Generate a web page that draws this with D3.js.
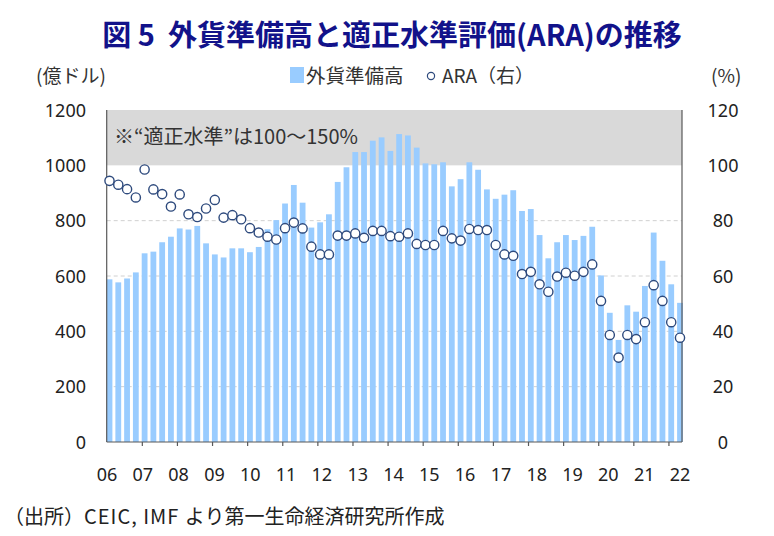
<script src="https://d3js.org/d3.v7.min.js"></script>

<svg id="vis"></svg>

<script>

  /***** DATA *****/

  // Foreign reserves (100 million USD), quarterly from 2006Q1 to 2022Q2
  var reserves = [
    588, 577, 591, 613, 682, 688, 722, 742, 772, 768, 781, 718,
    678, 667, 700, 700, 686, 705, 769, 802, 862, 929, 865, 775,
    794, 823, 940, 993, 1048, 1048, 1089, 1101, 1052, 1113, 1108, 1064,
    1007, 1004, 1011, 924, 950, 1011, 984, 913, 879, 894, 910, 835,
    842, 748, 664, 722, 748, 730, 745, 778, 602, 467, 369, 494,
    471, 564, 757, 655, 570, 503
  ]

  // ARA metric (%), right axis
  var ara = [
    94.4, 93.0, 91.4, 88.4, 98.5, 91.3, 89.6, 85.1, 89.5, 82.3, 81.3, 84.4,
    87.5, 81.1, 82.0, 80.5, 77.3, 75.7, 74.2, 73.2, 77.3, 79.3, 77.2, 70.6,
    67.8, 67.8, 74.6, 74.6, 75.4, 73.8, 76.3, 76.3, 74.4, 74.2, 75.4, 71.6,
    71.2, 71.2, 76.3, 73.6, 72.8, 77.0, 76.6, 76.6, 71.2, 67.8, 67.3, 60.7,
    61.5, 57.0, 54.3, 59.8, 61.2, 60.1, 61.5, 64.2, 51.0, 38.7, 30.5, 38.7,
    37.2, 43.3, 56.7, 51.0, 43.3, 37.7
  ]

  var yearLabels = ['06', '07', '08', '09', '10', '11', '12', '13', '14', '15', '16', '17', '18', '19', '20', '21', '22']
  var leftTicks = [0, 200, 400, 600, 800, 1000, 1200]
  var rightTicks = [0, 20, 40, 60, 80, 100, 120]

  var txt = {
    title: '図 5\u00a0 外貨準備高と適正水準評価(ARA)の推移',
    leftUnit: '(億ドル)',
    rightUnit: '(%)',
    legendBar: '外貨準備高',
    legendDot: 'ARA（右）',
    band: '※“適正水準”は100～150%',
    sourceHead: '（出所）',
    sourceLatin: 'CEIC, IMF ',
    sourceTail: 'より第一生命経済研究所作成'
  }


  /***** SETUP *****/

  var W = 774
  var H = 536
  var plotL = 106.7
  var plotR = 682
  var plotT = 110
  var plotB = 442

  var svg = d3.select('#vis')
    .attr('width', W)
    .attr('height', H)
    .style('background-color', 'white')

  var jp = "'Noto Sans CJK JP', 'Noto Sans', sans-serif"
  var num = "'Noto Sans', 'Open Sans', sans-serif"

  var idx = d3.range(reserves.length)

  var x = d3.scalePoint()
    .domain(idx)
    .range([109.5, 680])

  var step = x.step()
  var barW = 5.8

  var yL = d3.scaleLinear().domain([0, 1200]).range([plotB, plotT])
  var yR = d3.scaleLinear().domain([0, 120]).range([plotB, plotT])

  var labelX = d3.scaleLinear().domain([0, yearLabels.length - 1]).range([107, 680])


  /***** BACKGROUND *****/

  // Gray band for the "appropriate" range
  svg.append('rect')
    .attr('x', plotL)
    .attr('y', yR(120))
    .attr('width', plotR - plotL)
    .attr('height', yR(100) - yR(120))
    .attr('fill', '#d9d9d9')

  // Dashed gridlines
  svg.selectAll('.grid')
    .data([200, 400, 600, 800])
    .enter()
    .append('line')
    .attr('x1', plotL)
    .attr('x2', plotR)
    .attr('y1', function(d) { return yL(d) })
    .attr('y2', function(d) { return yL(d) })
    .style('stroke', '#d0d0d0')
    .style('stroke-width', 1)
    .style('stroke-dasharray', '4,3')

  svg.append('text')
    .text(txt.band)
    .attr('x', 114)
    .attr('y', 144)
    .style('font-size', 20)
    .style('fill', '#333')
    .style('font-family', jp)


  /***** BARS *****/

  svg.selectAll('.bar')
    .data(idx)
    .enter()
    .append('rect')
    .attr('class', 'bar')
    .attr('x', function(i) { return x(i) - barW / 2 })
    .attr('y', function(i) { return yL(reserves[i]) })
    .attr('width', barW)
    .attr('height', function(i) { return plotB - yL(reserves[i]) })
    .attr('fill', '#99ccff')


  /***** AXES *****/

  svg.append('line')
    .attr('x1', plotL).attr('x2', plotL)
    .attr('y1', plotT).attr('y2', plotB)
    .style('stroke', '#595959').style('stroke-width', 1.2)

  svg.append('line')
    .attr('x1', plotR).attr('x2', plotR)
    .attr('y1', plotT).attr('y2', plotB)
    .style('stroke', '#595959').style('stroke-width', 1.2)

  svg.append('line')
    .attr('x1', plotL).attr('x2', plotR)
    .attr('y1', plotB).attr('y2', plotB)
    .style('stroke', '#595959').style('stroke-width', 1.2)

  // Year ticks between Q4 and Q1
  svg.selectAll('.xtick')
    .data(d3.range(4, reserves.length, 4))
    .enter()
    .append('line')
    .attr('x1', function(i) { return x(i) - step * 0.26 })
    .attr('x2', function(i) { return x(i) - step * 0.26 })
    .attr('y1', plotB)
    .attr('y2', plotB + 4)
    .style('stroke', '#595959')
    .style('stroke-width', 1.2)

  svg.selectAll('.xlab')
    .data(yearLabels)
    .enter()
    .append('text')
    .text(function(d) { return d })
    .attr('x', function(d, i) { return labelX(i) })
    .attr('y', 481)
    .attr('text-anchor', 'middle')
    .style('font-size', 18)
    .style('fill', '#222')
    .style('font-family', num)

  svg.selectAll('.ylabL')
    .data(leftTicks)
    .enter()
    .append('text')
    .text(function(d) { return d })
    .attr('x', 86)
    .attr('y', function(d) { return yL(d) + 6.5 })
    .attr('text-anchor', 'end')
    .style('font-size', 18)
    .style('fill', '#222')
    .style('font-family', num)

  svg.selectAll('.ylabR')
    .data(rightTicks)
    .enter()
    .append('text')
    .text(function(d) { return d })
    .attr('x', 723)
    .attr('y', function(d) { return yR(d) + 6.5 })
    .attr('text-anchor', 'middle')
    .style('font-size', 18)
    .style('fill', '#222')
    .style('font-family', num)


  /***** ARA MARKERS *****/

  svg.selectAll('.dot')
    .data(idx)
    .enter()
    .append('circle')
    .attr('cx', function(i) { return x(i) })
    .attr('cy', function(i) { return yR(ara[i]) })
    .attr('r', 4.6)
    .attr('fill', 'white')
    .style('stroke', '#2e4a7d')
    .style('stroke-width', 1.4)


  /***** TITLES, LEGEND, SOURCE *****/

  svg.append('text')
    .text(txt.title)
    .attr('x', 392)
    .attr('y', 46)
    .attr('text-anchor', 'middle')
    .style('font-size', 29)
    .style('font-weight', 700)
    .style('fill', '#12128a')
    .style('font-family', jp)

  svg.append('text')
    .text(txt.leftUnit)
    .attr('x', 36)
    .attr('y', 83)
    .style('font-size', 19)
    .style('fill', '#333')
    .style('font-family', jp)

  svg.append('text')
    .text(txt.rightUnit)
    .attr('x', 711)
    .attr('y', 83)
    .style('font-size', 19)
    .style('fill', '#333')
    .style('font-family', jp)

  svg.append('rect')
    .attr('x', 290)
    .attr('y', 67)
    .attr('width', 14)
    .attr('height', 16)
    .attr('fill', '#99ccff')

  svg.append('text')
    .text(txt.legendBar)
    .attr('x', 306)
    .attr('y', 83)
    .style('font-size', 19.5)
    .style('fill', '#333')
    .style('font-family', jp)

  svg.append('circle')
    .attr('cx', 431)
    .attr('cy', 76)
    .attr('r', 3.6)
    .attr('fill', 'white')
    .style('stroke', '#2e4a7d')
    .style('stroke-width', 1.2)

  svg.append('text')
    .text(txt.legendDot)
    .attr('x', 442)
    .attr('y', 83)
    .style('font-size', 19)
    .style('fill', '#333')
    .style('font-family', jp)

  var src = svg.append('text')
    .attr('x', 4)
    .attr('y', 524)
    .style('font-size', 20)
    .style('fill', '#222')
    .style('font-family', jp)

  src.append('tspan').text(txt.sourceHead)
  src.append('tspan').text(txt.sourceLatin).style('letter-spacing', '1px')
  src.append('tspan').text(txt.sourceTail)

</script>

<body style="margin: 0;"></body>
